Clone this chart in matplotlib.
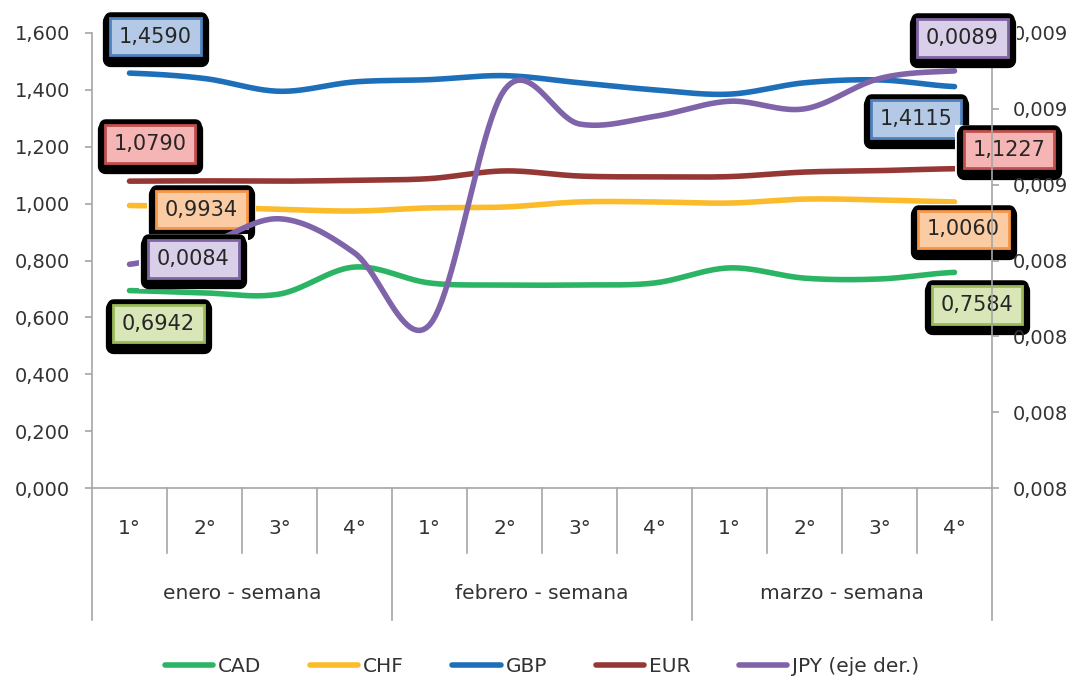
import numpy as np
import matplotlib

matplotlib.use("Agg")
import matplotlib.pyplot as plt
import matplotlib.patheffects as pe

plt.rcParams["font.family"] = ["DejaVu Sans"]
plt.rcParams["axes.unicode_minus"] = False

weeks = ["1°", "2°", "3°", "4°"] * 3
months = ["enero - semana", "febrero - semana", "marzo - semana"]

cad = [0.6942, 0.686, 0.682, 0.777, 0.721, 0.714, 0.714, 0.721, 0.774, 0.738, 0.735, 0.7584]
chf = [0.9934, 0.988, 0.980, 0.974, 0.985, 0.988, 1.006, 1.006, 1.002, 1.016, 1.013, 1.0060]
gbp = [1.4590, 1.440, 1.395, 1.428, 1.436, 1.450, 1.425, 1.400, 1.385, 1.425, 1.435, 1.4115]
eur = [1.0790, 1.080, 1.079, 1.082, 1.088, 1.115, 1.097, 1.094, 1.095, 1.111, 1.116, 1.1227]
jpy = [0.00839, 0.00844, 0.00851, 0.00842, 0.00823, 0.00885, 0.00876, 0.00878,
       0.00882, 0.00880, 0.00888, 0.00890]

C_CAD = "#2ab464"
C_CHF = "#fcbb2a"
C_GBP = "#1e6fba"
C_EUR = "#953735"
C_JPY = "#7f64a9"
AXIS = "#a6a6a6"
TXT = "#333333"


def smooth(vals, n=24):
    # catmull-rom, close to Excel's "smoothed line"
    y = np.asarray(vals, dtype=float)
    xs, ys = [], []
    for i in range(len(y) - 1):
        p0 = y[i - 1] if i > 0 else y[i]
        p1, p2 = y[i], y[i + 1]
        p3 = y[i + 2] if i + 2 < len(y) else y[i + 1]
        t = np.linspace(0, 1, n, endpoint=False)
        seg = 0.5 * ((2 * p1) + (-p0 + p2) * t + (2 * p0 - 5 * p1 + 4 * p2 - p3) * t ** 2
                     + (-p0 + 3 * p1 - 3 * p2 + p3) * t ** 3)
        xs.extend(i + t)
        ys.extend(seg)
    xs.append(len(y) - 1)
    ys.append(y[-1])
    return np.array(xs), np.array(ys)


def comma(v, nd):
    return f"{v:.{nd}f}".replace(".", ",")


def label(ax, xi, v, text, dx, dy, fill, edge):
    # dx, dy in pixels (dpi 100), y up
    t = ax.annotate(text, xy=(xi, v), xycoords="data", textcoords="offset points",
                    xytext=(dx * 0.72, dy * 0.72), ha="center", va="center",
                    fontsize=15, color="#262626", annotation_clip=False, zorder=9,
                    bbox=dict(boxstyle="square,pad=0.42", fc=fill, ec=edge, lw=2))
    t.get_bbox_patch().set_path_effects([
        pe.Stroke(linewidth=13, foreground="white", offset=(0, -2), joinstyle="miter"),
        pe.Stroke(linewidth=11, foreground="black", offset=(0, -2.5), joinstyle="round"),
        pe.Stroke(linewidth=9, foreground="black", joinstyle="round"),
        pe.Normal(),
    ])


fig = plt.figure(figsize=(10.75, 6.77), dpi=100)
ax = fig.add_axes([92 / 1075, 1 - 488 / 677, 900 / 1075, 455 / 677])
ax2 = ax.twinx()

for vals, col in [(cad, C_CAD), (chf, C_CHF), (gbp, C_GBP), (eur, C_EUR)]:
    sx, sy = smooth(vals)
    ax.plot(sx, sy, color=col, lw=4, solid_capstyle="round", zorder=3)
sx, sy = smooth(jpy)
ax2.plot(sx, sy, color=C_JPY, lw=4, solid_capstyle="round", zorder=3)

ax.set_xlim(-0.5, 11.5)
ax.set_ylim(0, 1.6)
ax2.set_ylim(0.0078, 0.0090)
left_ticks = np.arange(0, 1.61, 0.2)
right_ticks = np.arange(0.0078, 0.00901, 0.0002)
ax.set_yticks(left_ticks)
ax.set_yticklabels([comma(v, 3) for v in left_ticks])
ax2.set_yticks(right_ticks)
ax2.set_yticklabels([comma(v, 3) for v in right_ticks])

for a in (ax, ax2):
    for s in a.spines.values():
        s.set_visible(False)
for a, side in [(ax, "left"), (ax2, "right"), (ax, "bottom")]:
    a.spines[side].set_visible(True)
    a.spines[side].set_color(AXIS)
    a.spines[side].set_linewidth(1.2)
ax.tick_params(axis="y", length=5, width=1.2, color=AXIS, labelsize=14, labelcolor=TXT, pad=11)
ax2.tick_params(axis="y", length=5, width=1.2, color=AXIS, labelsize=14, labelcolor=TXT, pad=10)
ax.set_xticks([])
ax.patch.set_visible(False)
ax2.patch.set_visible(False)

# category axis: week and month separators + labels
tr = ax.get_xaxis_transform()
for k in range(13):
    b = k - 0.5
    depth = -0.29 if k % 4 == 0 else -0.143
    ax.plot([b, b], [0, depth], color=AXIS, lw=1.2, transform=tr, clip_on=False)
for i, w in enumerate(weeks):
    ax.text(i, -0.09, w, transform=tr, ha="center", va="center", fontsize=14.5, color=TXT)
for j, m in enumerate(months):
    ax.text(4 * j + 1.5, -0.231, m, transform=tr, ha="center", va="center", fontsize=14.5, color=TXT)

# data labels
label(ax, 0, gbp[0], comma(gbp[0], 4), 26, 36.5, "#b3c9e6", "#4f81bd")
label(ax, 0, eur[0], comma(eur[0], 4), 20.5, 37, "#f5b5b5", "#c0504d")
label(ax, 0, chf[0], comma(chf[0], 4), 72, -4, "#fbcca3", "#f79646")
label(ax2, 0, jpy[0], comma(jpy[0], 4), 64, 5.5, "#d9cfe8", "#8064a2")
label(ax, 0, cad[0], comma(cad[0], 4), 29, -33, "#d8e6b8", "#9bbb59")
label(ax2, 11, jpy[-1], comma(jpy[-1], 4), 8, 33, "#d9cfe8", "#8064a2")
label(ax, 11, gbp[-1], comma(gbp[-1], 4), -38.5, -32.5, "#b3c9e6", "#4f81bd")
label(ax, 11, eur[-1], comma(eur[-1], 4), 54.5, 19, "#f5b5b5", "#c0504d")
label(ax, 11, chf[-1], comma(chf[-1], 4), 9, -27.5, "#fbcca3", "#f79646")
label(ax, 11, cad[-1], comma(cad[-1], 4), 22.5, -32.5, "#d8e6b8", "#9bbb59")

handles = [plt.Line2D([], [], color=c, lw=4, solid_capstyle="round") for c in (C_CAD, C_CHF, C_GBP, C_EUR, C_JPY)]
fig.legend(handles, ["CAD", "CHF", "GBP", "EUR", "JPY (eje der.)"], loc="center",
           bbox_to_anchor=(542 / 1075, 1 - 667 / 677), ncol=5, frameon=False,
           fontsize=14.5, handlelength=2.4, handletextpad=0.25, columnspacing=2.4,
           labelcolor=TXT)

fig.savefig("out.png", dpi=100)
